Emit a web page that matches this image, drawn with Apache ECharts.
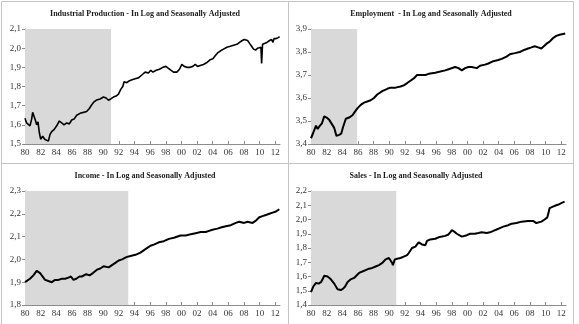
<!DOCTYPE html>
<html>
<head>
<meta charset="utf-8">
<script src="https://cdn.jsdelivr.net/npm/echarts@6/dist/echarts.min.js"></script>
<style>
  html, body { margin: 0; padding: 0; background: #fff; }
  #chart { width: 579px; height: 324px; }
</style>
</head>
<body>
<div id="chart"></div>
<script>
// x tick labels (years), shown as two digits
const yearTicks = [1980, 1982, 1984, 1986, 1988, 1990, 1992, 1994, 1996, 1998, 2000,
  2002, 2004, 2006, 2008, 2010, 2012];

const titles = [
  "Industrial Production - In Log and Seasonally Adjusted",
  "Employment  - In Log and Seasonally Adjusted",
  "Income - In Log and Seasonally Adjusted",
  "Sales - In Log and Seasonally Adjusted"
];

// end of the shaded period in each panel
const shadeEnds = [1991.0, 1985.9, 1993.2, 1990.9];

// Industrial production
const ipYears = [1980.0, 1980.2, 1980.43, 1980.64, 1980.85, 1980.98, 1981.15, 1981.32, 1981.49, 1981.66,
  1981.83, 1982.0, 1982.26, 1982.52, 1982.77, 1982.99, 1983.2, 1983.41, 1983.71, 1984.05,
  1984.39, 1984.69, 1984.99, 1985.33, 1985.67, 1985.97, 1986.27, 1986.61, 1987.04, 1987.47,
  1987.89, 1988.23, 1988.53, 1988.83, 1989.17, 1989.6, 1990.03, 1990.37, 1990.67, 1990.96,
  1991.31, 1991.65, 1991.95, 1992.24, 1992.5, 1992.67, 1993.01, 1993.35, 1993.69, 1994.08,
  1994.5, 1994.93, 1995.36, 1995.78, 1996.08, 1996.34, 1996.77, 1997.19, 1997.62, 1998.0,
  1998.34, 1998.64, 1998.98, 1999.41, 1999.75, 2000.05, 2000.35, 2000.69, 2001.12, 2001.46,
  2001.76, 2002.06, 2002.4, 2002.82, 2003.25, 2003.68, 2004.02, 2004.32, 2004.62, 2004.96,
  2005.38, 2005.81, 2006.24, 2006.66, 2007.09, 2007.43, 2007.77, 2008.03, 2008.24, 2008.46,
  2008.71, 2008.97, 2009.22, 2009.48, 2009.74, 2009.99, 2010.16, 2010.25, 2010.37, 2010.59,
  2010.93, 2011.27, 2011.53, 2011.7, 2011.83, 2012.12, 2012.38, 2012.55];
const ipValues = [1.634, 1.61, 1.60, 1.595, 1.63, 1.665, 1.645, 1.625, 1.60, 1.615,
  1.56, 1.525, 1.54, 1.525, 1.53, 1.515, 1.55, 1.565, 1.575, 1.595,
  1.62, 1.61, 1.60, 1.61, 1.605, 1.625, 1.63, 1.65, 1.66, 1.665,
  1.67, 1.685, 1.705, 1.72, 1.73, 1.735, 1.745, 1.74, 1.728, 1.735,
  1.745, 1.75, 1.76, 1.785, 1.80, 1.825, 1.82, 1.83, 1.835, 1.84,
  1.845, 1.86, 1.875, 1.87, 1.885, 1.875, 1.885, 1.89, 1.90, 1.905,
  1.895, 1.885, 1.875, 1.875, 1.89, 1.915, 1.905, 1.90, 1.90, 1.905,
  1.915, 1.905, 1.91, 1.915, 1.925, 1.94, 1.945, 1.96, 1.975, 1.985,
  1.995, 2.005, 2.01, 2.015, 2.02, 2.03, 2.04, 2.045, 2.05, 2.04,
  2.025, 2.01, 1.995, 1.99, 2.0, 2.01, 2.005, 1.92, 2.02, 2.025,
  2.03, 2.04, 2.045, 2.03, 2.05, 2.05, 2.055, 2.06];

// Employment
const empYears = [1980.0, 1980.3, 1980.64, 1980.85, 1981.14, 1981.4, 1981.69, 1981.99, 1982.33, 1982.58,
  1982.97, 1983.26, 1983.6, 1983.86, 1984.11, 1984.45, 1984.87, 1985.3, 1985.51, 1985.68,
  1985.93, 1986.36, 1986.78, 1987.2, 1987.63, 1988.05, 1988.47, 1989.11, 1989.75, 1990.17,
  1990.81, 1991.44, 1991.86, 1992.29, 1992.71, 1993.14, 1993.56, 1993.77, 1994.19, 1994.62,
  1995.04, 1995.89, 1996.53, 1997.16, 1997.58, 1998.43, 1998.86, 1999.28, 1999.7, 2000.13,
  2000.55, 2001.19, 2001.61, 2002.25, 2002.67, 2003.31, 2003.94, 2004.37, 2005.0, 2005.42,
  2006.06, 2006.69, 2007.33, 2007.75, 2008.18, 2008.6, 2009.03, 2009.45, 2009.66, 2010.08,
  2010.51, 2010.93, 2011.36, 2011.78, 2011.99, 2012.5];
const empValues = [3.425, 3.45, 3.48, 3.465, 3.48, 3.49, 3.52, 3.515, 3.505, 3.50,
  3.47, 3.435, 3.44, 3.445, 3.475, 3.51, 3.515, 3.525, 3.535, 3.53,
  3.555, 3.57, 3.58, 3.585, 3.59, 3.60, 3.615, 3.63, 3.64, 3.645,
  3.645, 3.65, 3.655, 3.665, 3.675, 3.685, 3.70, 3.705, 3.70, 3.70,
  3.705, 3.71, 3.715, 3.72, 3.725, 3.735, 3.73, 3.72, 3.73, 3.735,
  3.735, 3.73, 3.74, 3.745, 3.75, 3.76, 3.765, 3.77, 3.78, 3.79,
  3.795, 3.80, 3.81, 3.815, 3.82, 3.825, 3.82, 3.815, 3.82, 3.835,
  3.845, 3.86, 3.87, 3.875, 3.875, 3.88];

// Income
const incYears = [1980.0, 1980.64, 1981.07, 1981.28, 1981.5, 1981.93, 1982.14, 1982.57, 1982.99, 1983.42,
  1983.85, 1984.28, 1984.71, 1985.13, 1985.56, 1985.86, 1986.2, 1986.55, 1986.97, 1987.27,
  1987.83, 1988.26, 1988.68, 1989.2, 1989.63, 1990.05, 1990.7, 1991.12, 1991.55, 1991.98,
  1992.41, 1992.96, 1993.48, 1994.12, 1994.76, 1995.4, 1996.04, 1996.47, 1997.11, 1997.75,
  1998.4, 1999.04, 1999.89, 2000.53, 2001.18, 2001.82, 2002.46, 2003.1, 2003.53, 2003.96,
  2004.6, 2005.03, 2005.67, 2006.31, 2006.95, 2007.38, 2008.02, 2008.45, 2009.09, 2009.52,
  2009.95, 2010.37, 2010.8, 2011.23, 2011.66, 2012.09, 2012.51];
const incValues = [1.90, 1.915, 1.93, 1.935, 1.95, 1.94, 1.93, 1.91, 1.905, 1.90,
  1.91, 1.91, 1.915, 1.915, 1.92, 1.925, 1.91, 1.915, 1.925, 1.925,
  1.935, 1.93, 1.94, 1.955, 1.96, 1.97, 1.965, 1.975, 1.985, 1.995,
  2.00, 2.01, 2.015, 2.02, 2.03, 2.045, 2.06, 2.065, 2.075, 2.08,
  2.09, 2.095, 2.105, 2.105, 2.11, 2.115, 2.12, 2.12, 2.125, 2.13,
  2.135, 2.14, 2.145, 2.15, 2.16, 2.165, 2.16, 2.165, 2.16, 2.17,
  2.185, 2.19, 2.195, 2.20, 2.205, 2.21, 2.22];

// Sales
const salYears = [1980.0, 1980.3, 1980.64, 1980.97, 1981.27, 1981.48, 1981.69, 1981.91, 1982.12, 1982.54,
  1982.97, 1983.39, 1983.81, 1984.11, 1984.36, 1984.66, 1985.08, 1985.51, 1985.72, 1986.14,
  1986.57, 1986.99, 1987.42, 1987.84, 1988.26, 1988.69, 1989.11, 1989.32, 1989.53, 1989.96,
  1990.17, 1990.38, 1990.47, 1990.72, 1991.02, 1991.44, 1991.86, 1992.29, 1992.5, 1992.92,
  1993.14, 1993.35, 1993.56, 1993.77, 1993.98, 1994.19, 1994.41, 1994.62, 1994.83, 1995.25,
  1995.89, 1996.31, 1996.74, 1997.16, 1997.58, 1997.8, 1998.01, 1998.31, 1998.64, 1998.86,
  1999.28, 1999.92, 2000.34, 2000.97, 2001.4, 2001.82, 2002.46, 2002.88, 2003.31, 2003.73,
  2004.15, 2004.58, 2005.21, 2005.64, 2006.27, 2006.91, 2007.75, 2008.39, 2008.81, 2009.03,
  2009.45, 2009.87, 2010.21, 2010.38, 2010.51, 2010.93, 2011.36, 2011.65, 2011.99, 2012.42];
const salValues = [1.49, 1.53, 1.555, 1.55, 1.56, 1.58, 1.605, 1.61, 1.60, 1.58,
  1.55, 1.51, 1.505, 1.515, 1.53, 1.56, 1.58, 1.59, 1.60, 1.625,
  1.635, 1.645, 1.655, 1.66, 1.67, 1.68, 1.695, 1.705, 1.72, 1.73,
  1.74, 1.695, 1.68, 1.72, 1.725, 1.73, 1.74, 1.75, 1.765, 1.80,
  1.80, 1.81, 1.825, 1.84, 1.845, 1.825, 1.83, 1.82, 1.85, 1.86,
  1.865, 1.875, 1.88, 1.885, 1.895, 1.91, 1.925, 1.915, 1.90, 1.89,
  1.88, 1.89, 1.90, 1.90, 1.905, 1.91, 1.905, 1.91, 1.92, 1.93,
  1.94, 1.95, 1.96, 1.97, 1.975, 1.985, 1.99, 1.99, 1.975, 1.97,
  1.985, 2.00, 2.015, 2.05, 2.08, 2.09, 2.10, 2.105, 2.115, 2.125];

const yRanges = [[1.5, 2.1], [3.4, 3.9], [1.8, 2.3], [1.4, 2.2]];

const FONT = '"Liberation Serif", "Times New Roman", serif';

const grids = [
  { left: 25, top: 29, width: 255, height: 115 },
  { left: 311, top: 29, width: 255, height: 115 },
  { left: 25, top: 191, width: 255, height: 114 },
  { left: 311, top: 191, width: 255, height: 114 }
];
const titlePos = [[145, 14], [431, 14], [145, 176], [416, 176]];

const seriesData = [
  ipYears.map((y, i) => [y, ipValues[i]]),
  empYears.map((y, i) => [y, empValues[i]]),
  incYears.map((y, i) => [y, incValues[i]]),
  salYears.map((y, i) => [y, salValues[i]])
];

const chart = echarts.init(document.getElementById('chart'), null, { renderer: 'canvas' });

const xAxes = grids.map((g, i) => ({
  type: 'value',
  gridIndex: i,
  min: 1980,
  max: 2012.6,
  interval: 2,
  splitLine: { show: false },
  axisLine: { lineStyle: { color: '#8c8c8c', width: 1 } },
  axisTick: { inside: true, length: 3, customValues: yearTicks, lineStyle: { color: '#8c8c8c' } },
  axisLabel: {
    customValues: yearTicks,
    formatter: v => String(v % 100).padStart(2, '0'),
    fontFamily: FONT, fontSize: 9, color: '#333', margin: 4
  }
}));

const yAxes = grids.map((g, i) => ({
  type: 'value',
  gridIndex: i,
  min: yRanges[i][0],
  max: yRanges[i][1],
  interval: 0.1,
  splitLine: { show: false },
  axisLine: { show: true, lineStyle: { color: '#8c8c8c', width: 1 } },
  axisTick: { show: true, length: 3, lineStyle: { color: '#8c8c8c' } },
  axisLabel: {
    formatter: v => v.toFixed(1).replace('.', ','),
    fontFamily: FONT, fontSize: 9, color: '#333', margin: 4
  }
}));

const series = seriesData.map((d, i) => ({
  type: 'line',
  xAxisIndex: i,
  yAxisIndex: i,
  data: d,
  showSymbol: false,
  lineStyle: { color: '#000', width: i === 0 ? 1.6 : 2 },
  animation: false,
  markArea: {
    silent: true,
    itemStyle: { color: '#d9d9d9' },
    data: [[{ xAxis: 1980 }, { xAxis: shadeEnds[i] }]]
  }
}));

const graphics = [
  { type: 'rect', shape: { x: 1.5, y: 1.5, width: 572, height: 340 }, style: { fill: null, stroke: '#c4c4c4', lineWidth: 1 }, silent: true },
  { type: 'line', shape: { x1: 288.5, y1: 1, x2: 288.5, y2: 324 }, style: { stroke: '#c4c4c4', lineWidth: 1 }, silent: true },
  { type: 'line', shape: { x1: 1, y1: 163.5, x2: 574, y2: 163.5 }, style: { stroke: '#c4c4c4', lineWidth: 1 }, silent: true }
].concat(titles.map((t, i) => ({
  type: 'text',
  x: titlePos[i][0],
  y: titlePos[i][1],
  silent: true,
  style: {
    text: t,
    align: 'center',
    verticalAlign: 'middle',
    font: 'bold 8px ' + FONT,
    fill: '#1a1a1a'
  }
})));

chart.setOption({
  animation: false,
  backgroundColor: '#fff',
  grid: grids,
  xAxis: xAxes,
  yAxis: yAxes,
  series: series,
  graphic: graphics
});
</script>
</body>
</html>
